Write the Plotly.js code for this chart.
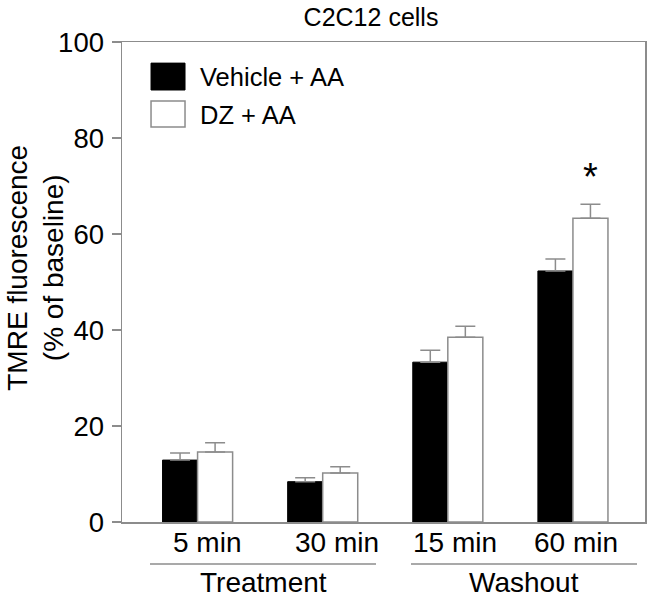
<!DOCTYPE html>
<html>
<head>
<meta charset="utf-8">
<script src="https://cdn.plot.ly/plotly-3.0.1.min.js"></script>
<style>html,body{margin:0;padding:0;background:#fff;}#chart{width:653px;height:600px;}</style>
</head>
<body>
<div id="chart"></div>
<script>
const categories = ["5 min", "30 min", "15 min", "60 min"];
const seriesNames = ["Vehicle + AA", "DZ + AA"];
const vehicle = [12.9, 8.4, 33.3, 52.3];
const vehicleErr = [1.5, 0.8, 2.5, 2.5];
const dz = [14.6, 10.2, 38.5, 63.3];
const dzErr = [1.9, 1.3, 2.3, 2.9];
const groupLabels = ["Treatment", "Washout"];
const yTicks = [0, 20, 40, 60, 80, 100];
const sigIndex = 3;

const FONT = "Liberation Sans, Arial, sans-serif";
const GRAY = "#8c8c8c";
const xIdx = categories.map((c, i) => i);
const labelShift = [9, 14, 7, 3];

const traces = [
  {
    type: "bar", name: seriesNames[0], x: xIdx, y: vehicle,
    marker: {color: "#000000", line: {color: "#000000", width: 1}},
    error_y: {type: "data", symmetric: false, array: vehicleErr, arrayminus: vehicle.map(() => 0),
              color: GRAY, thickness: 1.5, width: 10},
    showlegend: false
  },
  {
    type: "bar", name: seriesNames[1], x: xIdx, y: dz,
    marker: {color: "#ffffff", line: {color: GRAY, width: 1.5}},
    error_y: {type: "data", symmetric: false, array: dzErr, arrayminus: dz.map(() => 0),
              color: GRAY, thickness: 1.5, width: 10},
    showlegend: false
  }
];

const annotations = [
  {text: seriesNames[0], xref: "paper", yref: "paper", x: 0.145, y: 0.927, xanchor: "left", yanchor: "middle",
   showarrow: false, font: {family: FONT, size: 25.5}},
  {text: seriesNames[1], xref: "paper", yref: "paper", x: 0.145, y: 0.848, xanchor: "left", yanchor: "middle",
   showarrow: false, font: {family: FONT, size: 25.5}},
  {text: groupLabels[0], xref: "paper", yref: "paper", x: 0.2696, y: -0.125, xanchor: "center", yanchor: "middle",
   showarrow: false, font: {family: FONT, size: 28}},
  {text: groupLabels[1], xref: "paper", yref: "paper", x: 0.7686, y: -0.125, xanchor: "center", yanchor: "middle",
   showarrow: false, font: {family: FONT, size: 28}},
  {text: "TMRE fluorescence<br>(% of baseline)", xref: "paper", yref: "paper",
   x: -0.167, y: 0.529, xanchor: "center", yanchor: "middle", textangle: -90,
   showarrow: false, font: {family: FONT, size: 28}},
  {text: "*", xref: "x", yref: "y", x: sigIndex, y: dz[sigIndex] + dzErr[sigIndex],
   xshift: 18, yshift: 4, xanchor: "center", yanchor: "bottom",
   showarrow: false, font: {family: FONT, size: 38}}
];
categories.forEach((c, i) => {
  annotations.push({text: c, xref: "x", yref: "paper", x: i, y: -0.0417, xshift: labelShift[i],
    xanchor: "center", yanchor: "middle", showarrow: false, font: {family: FONT, size: 28}});
});

const layout = {
  width: 653, height: 600,
  margin: {l: 122, r: 8, t: 42, b: 78},
  paper_bgcolor: "#ffffff", plot_bgcolor: "#ffffff",
  font: {family: FONT, color: "#000000", size: 28},
  barmode: "group", bargap: 0.44, bargroupgap: 0,
  title: {text: "C2C12 cells", font: {family: FONT, size: 25, color: "#000"},
          x: 371 / 653, xref: "container", xanchor: "center", y: 1 - 17 / 600, yanchor: "middle"},
  xaxis: {
    range: [-0.604, 3.576], tickvals: xIdx, showticklabels: false,
    showline: true, linecolor: GRAY, linewidth: 1.5, mirror: true,
    ticks: "", showgrid: false, zeroline: false, fixedrange: true
  },
  yaxis: {
    range: [0, 100], tickvals: yTicks,
    showline: true, linecolor: GRAY, linewidth: 1.5, mirror: true,
    ticks: "outside", ticklen: 9, tickwidth: 1.5, tickcolor: GRAY,
    showgrid: false, zeroline: false,
    tickfont: {family: FONT, size: 27.5}, ticklabelstandoff: 2, fixedrange: true
  },
  shapes: [
    {type: "rect", xref: "paper", yref: "paper", x0: 0.0555, x1: 0.1205, y0: 0.9, y1: 0.956,
     fillcolor: "#000000", line: {color: "#000000", width: 1}},
    {type: "rect", xref: "paper", yref: "paper", x0: 0.0555, x1: 0.1205, y0: 0.823, y1: 0.877,
     fillcolor: "#ffffff", line: {color: GRAY, width: 1.5}},
    {type: "line", xref: "paper", yref: "paper", x0: 0.0535, x1: 0.4857, y0: -0.0875, y1: -0.0875,
     line: {color: GRAY, width: 1.5}},
    {type: "line", xref: "paper", yref: "paper", x0: 0.5526, x1: 0.9847, y0: -0.0875, y1: -0.0875,
     line: {color: GRAY, width: 1.5}}
  ],
  annotations: annotations
};

Plotly.newPlot("chart", traces, layout, {displayModeBar: false, staticPlot: true});
</script>
</body>
</html>
